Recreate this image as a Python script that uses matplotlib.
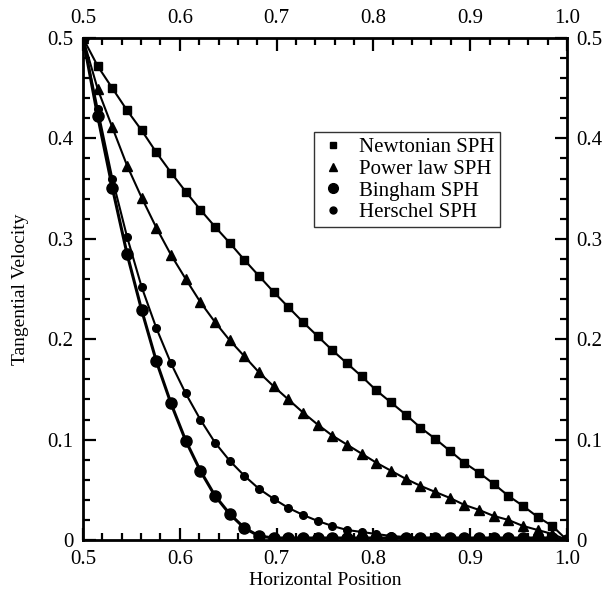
import numpy as np
import matplotlib
matplotlib.use('Agg')
import matplotlib.pyplot as plt
from matplotlib.ticker import MultipleLocator, FuncFormatter
from matplotlib.lines import Line2D

plt.rcParams['font.family'] = ['Liberation Serif', 'DejaVu Serif']

# positions (same grid for every series)
x = [0.5, 0.5152, 0.5303, 0.5455, 0.5606, 0.5758, 0.5909, 0.6061, 0.6212, 0.6364,
     0.6515, 0.6667, 0.6818, 0.6970, 0.7121, 0.7273, 0.7424, 0.7576, 0.7727, 0.7879,
     0.8030, 0.8182, 0.8333, 0.8485, 0.8636, 0.8788, 0.8939, 0.9091, 0.9242, 0.9394,
     0.9545, 0.9697, 0.9848, 1.0]

newtonian = [0.5, 0.472, 0.450, 0.428, 0.408, 0.386, 0.366, 0.347, 0.329, 0.312,
             0.296, 0.279, 0.263, 0.247, 0.232, 0.217, 0.203, 0.189, 0.176, 0.163,
             0.149, 0.137, 0.125, 0.112, 0.101, 0.089, 0.077, 0.067, 0.056, 0.044,
             0.034, 0.023, 0.014, 0.0]

power_law = [0.5, 0.449, 0.411, 0.373, 0.341, 0.311, 0.284, 0.260, 0.237, 0.217,
             0.199, 0.183, 0.167, 0.153, 0.140, 0.127, 0.115, 0.104, 0.095, 0.086,
             0.077, 0.069, 0.061, 0.054, 0.048, 0.042, 0.035, 0.030, 0.024, 0.020,
             0.014, 0.010, 0.006, 0.0]

bingham = [0.5, 0.422, 0.351, 0.285, 0.229, 0.178, 0.136, 0.099, 0.069, 0.044,
           0.026, 0.012, 0.004, 0.002, 0.002, 0.002, 0.002, 0.002, 0.002, 0.002,
           0.002, 0.002, 0.002, 0.002, 0.002, 0.002, 0.002, 0.002, 0.002, 0.002,
           0.002, 0.002, 0.002, 0.0]

herschel = [0.5, 0.429, 0.360, 0.302, 0.252, 0.211, 0.176, 0.146, 0.120, 0.097,
            0.079, 0.064, 0.051, 0.041, 0.032, 0.025, 0.019, 0.014, 0.010, 0.008,
            0.006, 0.004, 0.003, 0.002, 0.002, 0.001, 0.001, 0.001, 0.001, 0.001,
            0.0005, 0.0005, 0.0005, 0.0]

fig = plt.figure(figsize=(6.08, 5.90), dpi=100)
ax = fig.add_axes([0.1365, 0.0847, 0.7961, 0.8509])

ax.plot(x, newtonian, color='black', lw=1.5, marker='s', ms=6)
ax.plot(x, power_law, color='black', lw=1.5, marker='^', ms=7)
ax.plot(x, bingham, color='black', lw=2.2, marker='o', ms=8)
ax.plot(x, herschel, color='black', lw=1.5, marker='o', ms=5.5)

ax.set_xlim(0.5, 1.0)
ax.set_ylim(0, 0.5)

ax.xaxis.set_major_locator(MultipleLocator(0.1))
ax.xaxis.set_minor_locator(MultipleLocator(0.02))
ax.yaxis.set_major_locator(MultipleLocator(0.1))
ax.yaxis.set_minor_locator(MultipleLocator(0.02))
ax.xaxis.set_major_formatter(FuncFormatter(lambda v, p: '%.1f' % v))
ax.yaxis.set_major_formatter(FuncFormatter(lambda v, p: '0' if abs(v) < 1e-9 else '%.1f' % v))

ax.tick_params(which='both', direction='in', top=True, right=True,
               labeltop=True, labelright=True, width=1.6, labelsize=15, pad=7)
ax.tick_params(which='major', length=9)
ax.tick_params(which='minor', length=5)
for s in ax.spines.values():
    s.set_linewidth(2)

ax.set_xlabel('Horizontal Position', fontsize=14, labelpad=2)
ax.set_ylabel('Tangential Velocity', fontsize=14, labelpad=13)

# legend: markers only
handles = [Line2D([], [], color='black', ls='none', marker='s', ms=5),
           Line2D([], [], color='black', ls='none', marker='^', ms=6),
           Line2D([], [], color='black', ls='none', marker='o', ms=7),
           Line2D([], [], color='black', ls='none', marker='o', ms=5)]
labels = ['Newtonian SPH', 'Power law SPH', 'Bingham SPH', 'Herschel SPH']
leg = ax.legend(handles, labels, loc='upper left', bbox_to_anchor=(0.478, 0.812),
                borderaxespad=0, fontsize=15, frameon=True, fancybox=False,
                edgecolor='black', handlelength=1.3, handletextpad=0.6,
                borderpad=0.25, labelspacing=0.1, numpoints=1)
leg.get_frame().set_linewidth(1.0)

fig.savefig('out.png', dpi=100)
